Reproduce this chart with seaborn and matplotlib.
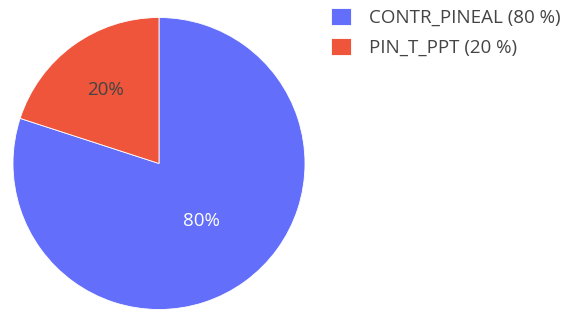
import matplotlib
matplotlib.use("Agg")
import matplotlib.pyplot as plt
import seaborn as sns

labels = ["CONTR_PINEAL", "PIN_T_PPT"]
values = [80, 20]
colors = ["#636EFA", "#EF553B"]
text_colors = ["white", "#444444"]
text_dist = [0.49, 0.62]

sns.set_style("white")
plt.rcParams["font.family"] = ["Open Sans", "DejaVu Sans"]

W, H = 579, 315
fig = plt.figure(figsize=(W / 100, H / 100), dpi=100)
cx, cy, r = 159, 163.5, 146
ax = fig.add_axes([(cx - r) / W, (H - cy - r) / H, 2 * r / W, 2 * r / H])

total = sum(values)
wedges, texts, autotexts = ax.pie(
    values, colors=colors, startangle=90, counterclock=False,
    autopct="%1.0f%%", pctdistance=0.5, radius=1,
    wedgeprops=dict(linewidth=0.6, edgecolor="white"),
    textprops=dict(fontsize=13.5),
)
for t, c, d in zip(autotexts, text_colors, text_dist):
    x, y = t.get_position()
    s = d / 0.5
    t.set_position((x * s, y * s))
    t.set_color(c)
ax.set_xlim(-1, 1)
ax.set_ylim(-1, 1)
ax.set_aspect("equal")
ax.axis("off")

leg_labels = [f"{l} ({round(v * 100 / total)} %)" for l, v in zip(labels, values)]
leg = fig.legend(wedges, leg_labels, loc="upper left",
                 bbox_to_anchor=(331 / W, 1 - 8 / H), frameon=False,
                 fontsize=13.5, handlelength=1.05, handleheight=1.0,
                 handletextpad=1.0, labelspacing=0.6,
                 borderpad=0, borderaxespad=0)
for t in leg.get_texts():
    t.set_color("#444444")

fig.savefig("out.png", dpi=100)
